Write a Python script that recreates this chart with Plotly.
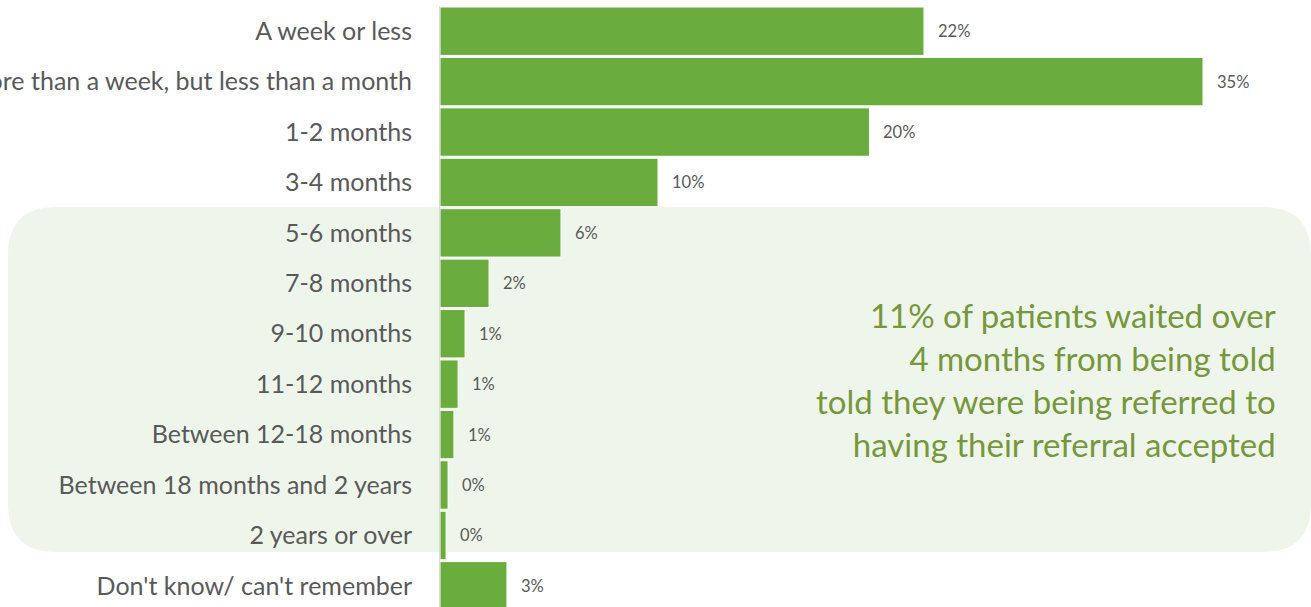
import plotly.graph_objects as go

categories = [
    "A week or less",
    "More than a week, but less than a month",
    "1-2 months",
    "3-4 months",
    "5-6 months",
    "7-8 months",
    "9-10 months",
    "11-12 months",
    "Between 12-18 months",
    "Between 18 months and 2 years",
    "2 years or over",
    "Don't know/ can't remember",
]
values = [22.2, 35.0, 19.7, 10.0, 5.55, 2.25, 1.15, 0.83, 0.64, 0.37, 0.28, 3.07]
value_labels = ["22%", "35%", "20%", "10%", "6%", "2%", "1%", "1%", "1%", "0%", "0%", "3%"]
note_lines = [
    "11% of patients waited over",
    "4 months from being told",
    "told they were being referred to",
    "having their referral accepted",
]

W, H = 1311, 607
ml, mt = 440, 6
pw, ph = W - ml, H - mt

BAR = "#6aad3e"
FONT = "Lato, 'Open Sans', sans-serif"

fig = go.Figure(go.Bar(
    x=values, y=categories, orientation="h",
    marker=dict(color=BAR, line=dict(color="#ffffff", width=1)),
    hoverinfo="skip",
))

for v, c, t in zip(values, categories, value_labels):
    fig.add_annotation(x=v, y=c, text=t, xanchor="left", xshift=12, showarrow=False,
                       font=dict(size=16.5, color="#595959", family=FONT))

# rounded background box (pixel coords converted to paper coords)
def px2x(p):
    return (p - ml) / pw

def py2y(p):
    return (H - p) / ph

x0, x1, y0, y1, r = 8, 1311, 207, 552, 48
rx, ry = r / pw, r / ph
X0, X1, Ytop, Ybot = px2x(x0), px2x(x1), py2y(y0), py2y(y1)
path = (f"M {X0+rx},{Ytop} L {X1-rx},{Ytop} Q {X1},{Ytop} {X1},{Ytop-ry} "
        f"L {X1},{Ybot+ry} Q {X1},{Ybot} {X1-rx},{Ybot} "
        f"L {X0+rx},{Ybot} Q {X0},{Ybot} {X0},{Ybot+ry} "
        f"L {X0},{Ytop-ry} Q {X0},{Ytop} {X0+rx},{Ytop} Z")
fig.add_shape(type="path", path=path, xref="paper", yref="paper",
              fillcolor="#eef6eb", line=dict(width=0), layer="below")

fig.add_annotation(x=px2x(1278), y=py2y(379), xref="paper", yref="paper",
                   text="<br>".join(note_lines), showarrow=False,
                   xanchor="right", yanchor="middle", align="right",
                   font=dict(size=33, color="#77973c", family=FONT))

fig.update_layout(
    width=W, height=H,
    margin=dict(l=ml, r=0, t=mt, b=0),
    paper_bgcolor="white", plot_bgcolor="rgba(0,0,0,0)",
    bargap=0.04, showlegend=False,
    font=dict(family=FONT, color="#595959"),
)
fig.update_xaxes(range=[0, pw / 21.8], visible=False, showgrid=False, zeroline=False)
fig.update_yaxes(range=[11.42, -0.5], showline=True, linecolor="#d9d9d9", linewidth=1,
                 ticks="", showgrid=False, tickfont=dict(size=25, color="#595959", family=FONT),
                 ticklabelstandoff=22, automargin=False)

fig.write_html("out.html")
